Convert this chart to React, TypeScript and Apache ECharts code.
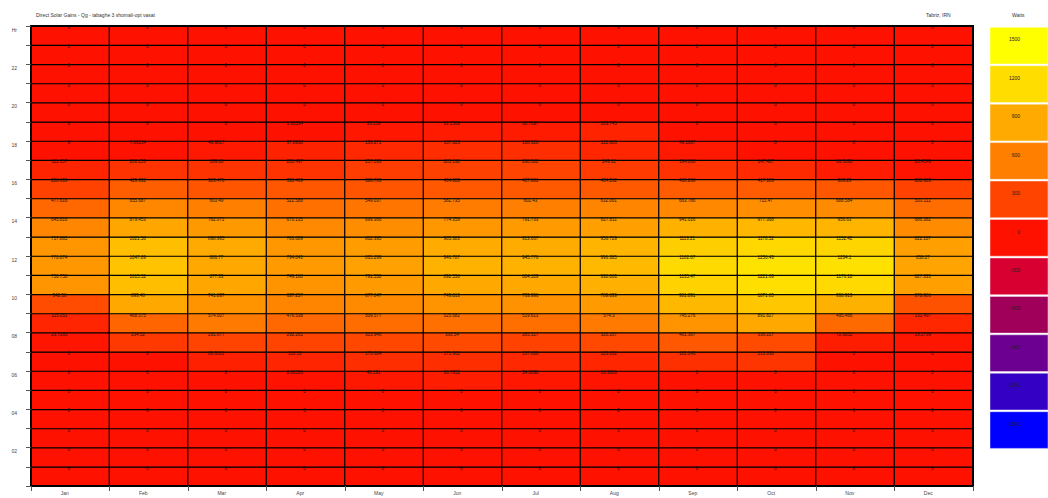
import React, { useEffect, useRef } from "react";
import * as echarts from "echarts";

const FONT = "Liberation Sans, Arial, sans-serif";

const months = ["Jan", "Feb", "Mar", "Apr", "May", "Jun", "Jul", "Aug", "Sep", "Oct", "Nov", "Dec"];
// hour categories, bottom (hour 1) to top (hour 24)
const hours = ["1", "2", "3", "4", "5", "6", "7", "8", "9", "10", "11", "12", "13", "14", "15", "16", "17", "18", "19", "20", "21", "22", "23", "24"];

// values per month, hour 1 .. hour 24
const jan = [0, 0, 0, 0, 0, 0, 0, 23.7263, 115.051, 342.58, 750.758, 770.874, 757.865, 645.816, 477.616, 288.639, 111.357, 0, 0, 0, 0, 0, 0, 0];
const feb = [0, 0, 0, 0, 0, 0, 0, 234.52, 468.575, 893.48, 1015.52, 1047.89, 1021.58, 879.453, 655.687, 429.932, 200.253, 7.03154, 0, 0, 0, 0, 0, 0];
const mar = [0, 0, 0, 0, 0, 0, 86.3601, 291.677, 574.007, 741.837, 877.33, 886.77, 898.995, 782.071, 603.49, 383.476, 199.86, 46.9817, 0, 0, 0, 0, 0, 0];
const apr = [0, 0, 0, 0, 0, 8.00536, 116.53, 292.261, 476.538, 637.257, 749.188, 794.843, 766.689, 670.135, 522.588, 398.469, 201.497, 97.8938, 1.36594, 0, 0, 0, 0, 0];
const may = [0, 0, 0, 0, 0, 40.191, 170.604, 313.946, 509.577, 677.047, 791.558, 835.299, 802.395, 699.366, 549.037, 388.763, 257.039, 136.271, 33.559, 0, 0, 0, 0, 0];
const jun = [0, 0, 0, 0, 0, 68.7952, 171.962, 330.54, 525.682, 743.013, 892.556, 946.787, 905.383, 774.359, 582.735, 404.083, 285.192, 167.023, 61.1569, 0, 0, 0, 0, 0];
const jul = [0, 0, 0, 0, 0, 34.0098, 137.888, 285.317, 519.613, 733.996, 884.109, 945.776, 913.067, 791.733, 602.43, 407.801, 298.582, 168.928, 60.7697, 0, 0, 0, 0, 0];
const aug = [0, 0, 0, 0, 0, 16.3866, 123.832, 326.207, 574.3, 789.839, 938.063, 996.385, 956.729, 827.811, 632.061, 404.262, 249.12, 122.803, 103.745, 0, 0, 0, 0, 0];
const sep = [0, 0, 0, 0, 0, 0, 182.049, 401.367, 745.276, 981.891, 1135.47, 1182.07, 1113.21, 941.016, 663.786, 418.268, 194.868, 46.1887, 0, 0, 0, 0, 0, 0];
const oct = [0, 0, 0, 0, 0, 0, 213.038, 336.227, 891.827, 1071.65, 1221.69, 1256.43, 1170.52, 977.368, 711.47, 417.186, 147.427, 0, 0, 0, 0, 0, 0, 0];
const nov = [0, 0, 0, 0, 0, 0, 0, 72.6652, 495.466, 938.913, 1176.18, 1234.1, 1152.42, 956.63, 688.584, 389.29, 66.5638, 0, 0, 0, 0, 0, 0, 0];
const dec = [0, 0, 0, 0, 0, 0, 0, 29.2799, 131.497, 370.906, 827.333, 858.27, 822.107, 686.382, 503.112, 288.903, 20.4549, 0, 0, 0, 0, 0, 0, 0];
const monthValues = [jan, feb, mar, apr, may, jun, jul, aug, sep, oct, nov, dec];

// legend (top to bottom)
const legendLabels = ["1500", "1200", "900", "600", "300", "0", "-300", "-600", "-900", "-1200", "-1500"];
const legendColors = ["#ffff00", "#ffdd00", "#ffaa00", "#ff7f00", "#ff4400", "#ff1100", "#d70030", "#a1005a", "#6c0090", "#3300c4", "#0000ff"];

const titleText = "Direct Solar Gains - Qg - tabaghe 3 shomali-opt vasat";
const locationText = "Tabriz, IRN";
const unitText = "Watts";

export default function App() {
  const ref = useRef<HTMLDivElement>(null);

  useEffect(() => {
    if (!ref.current) return;
    const chart = echarts.init(ref.current, undefined, { renderer: "svg" });

    const data: any[] = [];
    monthValues.forEach((vals, mi) => {
      vals.forEach((v, hi) => {
        data.push({
          value: [mi, hi, v],
          label: { offset: [v === 0 ? -1.5 : -11, 0] },
        });
      });
    });

    const legendGraphics: any[] = [];
    legendLabels.forEach((lab, i) => {
      const top = 27.3 + i * 38.44;
      legendGraphics.push({
        type: "rect",
        shape: { x: 990, y: top, width: 58, height: 36.7 },
        style: { fill: legendColors[i], stroke: "rgba(255,255,255,0.7)", lineWidth: 0.6 },
        silent: true,
      });
      legendGraphics.push({
        type: "text",
        style: {
          text: lab,
          x: 1020,
          y: top + 12,
          align: "right",
          verticalAlign: "middle",
          fontSize: 5,
          fontFamily: FONT,
          fill: "#222",
        },
        silent: true,
      });
    });

    const option: any = {
      animation: false,
      backgroundColor: "#ffffff",
      title: [
        { text: titleText, left: 31, top: 7, textStyle: { fontSize: 5, fontWeight: "normal", color: "#333", fontFamily: FONT } },
        { text: locationText, left: 921, top: 7, textStyle: { fontSize: 5, fontWeight: "normal", color: "#333", fontFamily: FONT } },
        { text: unitText, left: 1007, top: 7, textStyle: { fontSize: 5, fontWeight: "normal", color: "#333", fontFamily: FONT } },
      ],
      grid: { left: 31, right: 75, top: 26, bottom: 12, containLabel: false },
      xAxis: [
        {
          type: "category",
          data: months,
          position: "bottom",
          z: 5,
          axisLine: { onZero: false, lineStyle: { color: "#000", width: 2 } },
          axisTick: { show: true, length: 5, lineStyle: { color: "#555" } },
          axisLabel: { fontSize: 5, color: "#444", margin: 4, fontFamily: FONT, padding: [0, 11, 0, 0] },
          splitLine: { show: false },
        },
        {
          type: "category",
          data: months,
          position: "top",
          z: 5,
          axisLine: { onZero: false, lineStyle: { color: "#000", width: 2 } },
          axisTick: { show: false },
          axisLabel: { show: false },
          splitLine: { show: false },
        },
      ],
      yAxis: [
        {
          type: "category",
          data: hours,
          position: "right",
          z: 5,
          axisLine: { show: true, onZero: false, lineStyle: { color: "#000", width: 2 } },
          axisTick: { show: false },
          axisLabel: { show: false },
          splitLine: { show: false },
        },
        {
          type: "value",
          min: 0,
          max: 24,
          interval: 1,
          position: "left",
          z: 5,
          axisLine: { show: true, onZero: false, lineStyle: { color: "#000", width: 2 } },
          axisTick: { show: true, length: 5, lineStyle: { color: "#555" } },
          axisLabel: {
            fontSize: 5,
            color: "#444",
            margin: 14,
            fontFamily: FONT,
            verticalAlign: "top",
            padding: [1, 0, 0, 0],
            formatter: (v: number) =>
              v === 24 ? "Hr" : v > 0 && v % 2 === 0 ? String(v).padStart(2, "0") : "",
          },
          splitLine: { show: false },
        },
      ],
      visualMap: {
        type: "continuous",
        show: false,
        min: -1500,
        max: 1500,
        dimension: 2,
        seriesIndex: 0,
        inRange: { color: legendColors.slice().reverse() },
      },
      series: [
        {
          type: "heatmap",
          xAxisIndex: 0,
          yAxisIndex: 0,
          data,
          itemStyle: { borderColor: "#000", borderWidth: 1.2 },
          label: {
            show: true,
            position: "insideTop",
            distance: 0,
            fontSize: 4.5,
            color: "#111",
            fontFamily: FONT,
            formatter: (p: any) => String(p.value[2]),
          },
          emphasis: { disabled: true },
        },
      ],
      graphic: legendGraphics,
    };

    chart.setOption(option);
    return () => chart.dispose();
  }, []);

  return (
    <div
      ref={ref}
      style={{ position: "absolute", left: 0, top: 0, width: 1048, height: 498 }}
    />
  );
}
